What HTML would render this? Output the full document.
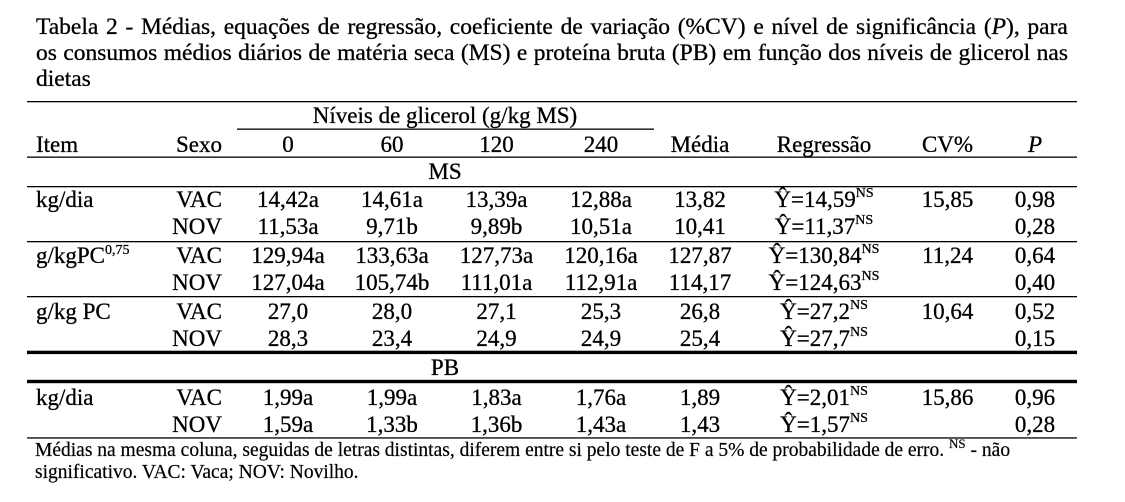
<!DOCTYPE html>
<html>
<head>
<meta charset="utf-8">
<style>
  html,body{margin:0;padding:0;background:#fff;}
  body{width:1125px;height:502px;position:relative;overflow:hidden;font-family:"Liberation Serif",serif;color:#000;}
  .tl{position:absolute;left:36px;width:1032px;height:26px;font-size:23.5px;line-height:26px;white-space:nowrap;display:flex;justify-content:space-between;-webkit-text-stroke:0.3px #000;}
  .tl3{position:absolute;left:36px;font-size:23.5px;line-height:26px;white-space:nowrap;-webkit-text-stroke:0.3px #000;}
  svg{position:absolute;left:0;top:0;}
</style>
</head>
<body>
<div class="tl" style="top:14px"><span>Tabela</span><span>2</span><span>-</span><span>Médias,</span><span>equações</span><span>de</span><span>regressão,</span><span>coeficiente</span><span>de</span><span>variação</span><span>(%CV)</span><span>e</span><span>nível</span><span>de</span><span>significância</span><span>(<i>P</i>),</span><span>para</span></div>
<div class="tl" style="top:40px"><span>os</span><span>consumos</span><span>médios</span><span>diários</span><span>de</span><span>matéria</span><span>seca</span><span>(MS)</span><span>e</span><span>proteína</span><span>bruta</span><span>(PB)</span><span>em</span><span>função</span><span>dos</span><span>níveis</span><span>de</span><span>glicerol</span><span>nas</span></div>
<div class="tl3" style="top:66px">dietas</div>

<svg width="1125" height="502" viewBox="0 0 1125 502" xmlns="http://www.w3.org/2000/svg" font-family="Liberation Serif, serif" fill="#000">
  <!-- rules -->
  <rect x="27" y="101" width="1050" height="1.3"/>
  <rect x="237" y="128.5" width="417" height="1.3"/>
  <rect x="27" y="156.5" width="1050" height="1.3"/>
  <rect x="27" y="186" width="1050" height="1.3"/>
  <rect x="27" y="241" width="1050" height="1.3"/>
  <rect x="27" y="296" width="1050" height="1.3"/>
  <rect x="27" y="350.7" width="1050" height="3.4"/>
  <rect x="27" y="379.8" width="1050" height="3.4"/>
  <rect x="27" y="437.3" width="1050" height="1.3"/>

  <g font-size="23" stroke="#000" stroke-width="0.3">
    <!-- header -->
    <text x="445" y="123" text-anchor="middle">Níveis de glicerol (g/kg MS)</text>
    <text x="36" y="152">Item</text>
    <text x="222" y="152" text-anchor="end">Sexo</text>
    <text x="288" y="152" text-anchor="middle">0</text>
    <text x="392" y="152" text-anchor="middle">60</text>
    <text x="496.5" y="152" text-anchor="middle">120</text>
    <text x="601" y="152" text-anchor="middle">240</text>
    <text x="700" y="152" text-anchor="middle">Média</text>
    <text x="824" y="152" text-anchor="middle">Regressão</text>
    <text x="947.5" y="152" text-anchor="middle">CV%</text>
    <text x="1035" y="152" text-anchor="middle" font-style="italic">P</text>

    <text x="445" y="179" text-anchor="middle">MS</text>

    <!-- kg/dia MS -->
    <text x="36" y="207">kg/dia</text>
    <text x="222" y="207" text-anchor="end">VAC</text>
    <text x="288" y="207" text-anchor="middle">14,42a</text>
    <text x="392" y="207" text-anchor="middle">14,61a</text>
    <text x="496.5" y="207" text-anchor="middle">13,39a</text>
    <text x="601" y="207" text-anchor="middle">12,88a</text>
    <text x="700" y="207" text-anchor="middle">13,82</text>
    <text x="824" y="207" text-anchor="middle">Ŷ=14,59<tspan font-size="14" dy="-10">NS</tspan></text>
    <text x="947.5" y="207" text-anchor="middle">15,85</text>
    <text x="1035" y="207" text-anchor="middle">0,98</text>

    <text x="222" y="234" text-anchor="end">NOV</text>
    <text x="288" y="234" text-anchor="middle">11,53a</text>
    <text x="392" y="234" text-anchor="middle">9,71b</text>
    <text x="496.5" y="234" text-anchor="middle">9,89b</text>
    <text x="601" y="234" text-anchor="middle">10,51a</text>
    <text x="700" y="234" text-anchor="middle">10,41</text>
    <text x="824" y="234" text-anchor="middle">Ŷ=11,37<tspan font-size="14" dy="-10">NS</tspan></text>
    <text x="1035" y="234" text-anchor="middle">0,28</text>

    <!-- g/kgPC^0,75 -->
    <text x="36" y="263">g/kgPC<tspan font-size="14" dy="-9">0,75</tspan></text>
    <text x="222" y="263" text-anchor="end">VAC</text>
    <text x="288" y="263" text-anchor="middle">129,94a</text>
    <text x="392" y="263" text-anchor="middle">133,63a</text>
    <text x="496.5" y="263" text-anchor="middle">127,73a</text>
    <text x="601" y="263" text-anchor="middle">120,16a</text>
    <text x="700" y="263" text-anchor="middle">127,87</text>
    <text x="824" y="263" text-anchor="middle">Ŷ=130,84<tspan font-size="14" dy="-10">NS</tspan></text>
    <text x="947.5" y="263" text-anchor="middle">11,24</text>
    <text x="1035" y="263" text-anchor="middle">0,64</text>

    <text x="222" y="290" text-anchor="end">NOV</text>
    <text x="288" y="290" text-anchor="middle">127,04a</text>
    <text x="392" y="290" text-anchor="middle">105,74b</text>
    <text x="496.5" y="290" text-anchor="middle">111,01a</text>
    <text x="601" y="290" text-anchor="middle">112,91a</text>
    <text x="700" y="290" text-anchor="middle">114,17</text>
    <text x="824" y="290" text-anchor="middle">Ŷ=124,63<tspan font-size="14" dy="-10">NS</tspan></text>
    <text x="1035" y="290" text-anchor="middle">0,40</text>

    <!-- g/kg PC -->
    <text x="36" y="319">g/kg PC</text>
    <text x="222" y="319" text-anchor="end">VAC</text>
    <text x="288" y="319" text-anchor="middle">27,0</text>
    <text x="392" y="319" text-anchor="middle">28,0</text>
    <text x="496.5" y="319" text-anchor="middle">27,1</text>
    <text x="601" y="319" text-anchor="middle">25,3</text>
    <text x="700" y="319" text-anchor="middle">26,8</text>
    <text x="824" y="319" text-anchor="middle">Ŷ=27,2<tspan font-size="14" dy="-10">NS</tspan></text>
    <text x="947.5" y="319" text-anchor="middle">10,64</text>
    <text x="1035" y="319" text-anchor="middle">0,52</text>

    <text x="222" y="346" text-anchor="end">NOV</text>
    <text x="288" y="346" text-anchor="middle">28,3</text>
    <text x="392" y="346" text-anchor="middle">23,4</text>
    <text x="496.5" y="346" text-anchor="middle">24,9</text>
    <text x="601" y="346" text-anchor="middle">24,9</text>
    <text x="700" y="346" text-anchor="middle">25,4</text>
    <text x="824" y="346" text-anchor="middle">Ŷ=27,7<tspan font-size="14" dy="-10">NS</tspan></text>
    <text x="1035" y="346" text-anchor="middle">0,15</text>

    <text x="445" y="375" text-anchor="middle">PB</text>

    <!-- kg/dia PB -->
    <text x="36" y="405">kg/dia</text>
    <text x="222" y="405" text-anchor="end">VAC</text>
    <text x="288" y="405" text-anchor="middle">1,99a</text>
    <text x="392" y="405" text-anchor="middle">1,99a</text>
    <text x="496.5" y="405" text-anchor="middle">1,83a</text>
    <text x="601" y="405" text-anchor="middle">1,76a</text>
    <text x="700" y="405" text-anchor="middle">1,89</text>
    <text x="824" y="405" text-anchor="middle">Ŷ=2,01<tspan font-size="14" dy="-10">NS</tspan></text>
    <text x="947.5" y="405" text-anchor="middle">15,86</text>
    <text x="1035" y="405" text-anchor="middle">0,96</text>

    <text x="222" y="432" text-anchor="end">NOV</text>
    <text x="288" y="432" text-anchor="middle">1,59a</text>
    <text x="392" y="432" text-anchor="middle">1,33b</text>
    <text x="496.5" y="432" text-anchor="middle">1,36b</text>
    <text x="601" y="432" text-anchor="middle">1,43a</text>
    <text x="700" y="432" text-anchor="middle">1,43</text>
    <text x="824" y="432" text-anchor="middle">Ŷ=1,57<tspan font-size="14" dy="-10">NS</tspan></text>
    <text x="1035" y="432" text-anchor="middle">0,28</text>
  </g>

  <!-- footnote -->
  <g font-size="19.5" stroke="#000" stroke-width="0.2">
    <text x="35" y="456">Médias na mesma coluna, seguidas de letras distintas, diferem entre si pelo teste de F a 5% de probabilidade de erro. <tspan font-size="13" dy="-8">NS</tspan><tspan dy="8"> - não</tspan></text>
    <text x="35" y="478">significativo. VAC: Vaca; NOV: Novilho.</text>
  </g>
</svg>
</body>
</html>
